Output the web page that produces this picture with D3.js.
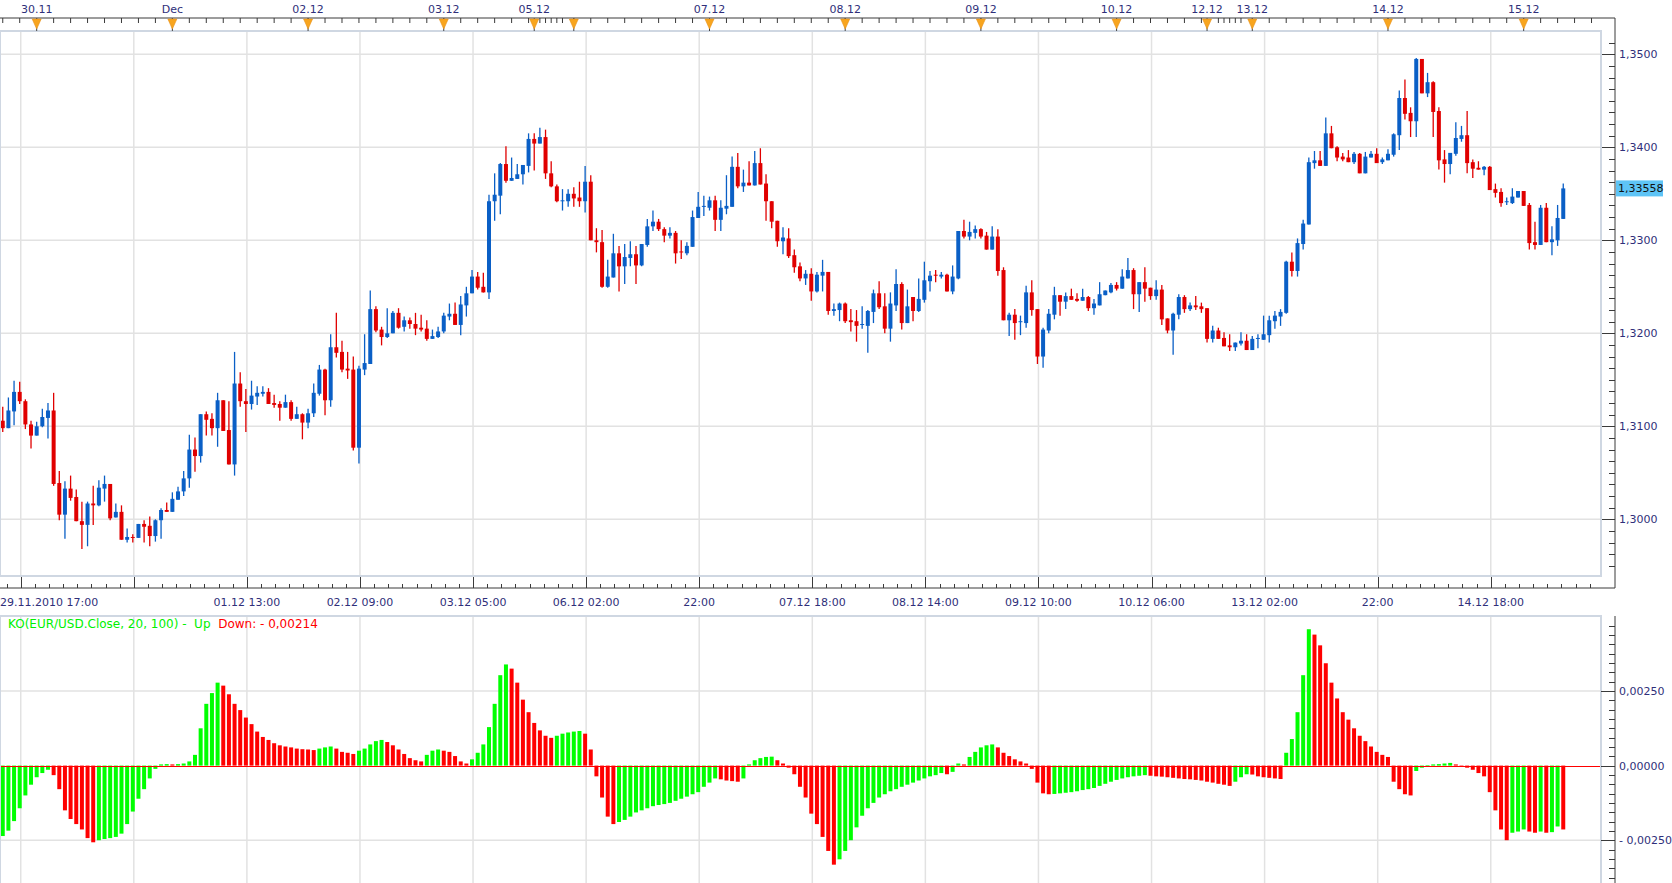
<!DOCTYPE html>
<html><head><meta charset="utf-8">
<script src="https://cdn.jsdelivr.net/npm/d3@7"></script>
<style>html,body{margin:0;padding:0;background:#fff;overflow:hidden}</style>
</head><body><svg id="c" width="1672" height="883"></svg>
<script>
// ---------------- DATA ----------------
const openP = [1.3106,1.3098,1.3116,1.3137,1.3127,1.3102,1.3090,1.3100,1.3109,1.3117,
1.3039,1.3005,1.3033,1.3024,1.2998,1.2994,1.3017,1.3015,1.3033,1.3038,
1.3002,1.3008,1.2978,1.2981,1.2980,1.2995,1.2993,1.2982,1.2999,1.3010,
1.3008,1.3021,1.3030,1.3044,1.3075,1.3068,1.3113,1.3108,1.3098,1.3128,
1.3096,1.3059,1.3146,1.3127,1.3124,1.3132,1.3135,1.3137,1.3125,1.3124,
1.3120,1.3126,1.3108,1.3113,1.3104,1.3114,1.3135,1.3161,1.3128,1.3185,
1.3180,1.3162,1.3161,1.3077,1.3161,1.3167,1.3226,1.3204,1.3196,1.3200,
1.3222,1.3207,1.3214,1.3210,1.3206,1.3205,1.3194,1.3196,1.3202,1.3218,
1.3221,1.3209,1.3230,1.3243,1.3261,1.3250,1.3244,1.3342,1.3348,1.3382,
1.3364,1.3366,1.3371,1.3380,1.3409,1.3404,1.3411,1.3372,1.3358,1.3343,
1.3342,1.3350,1.3346,1.3342,1.3363,1.3300,1.3298,1.3250,1.3260,1.3286,
1.3272,1.3281,1.3285,1.3273,1.3295,1.3315,1.3320,1.3312,1.3305,1.3308,
1.3288,1.3286,1.3293,1.3324,1.3336,1.3335,1.3343,1.3322,1.3334,1.3336,
1.3379,1.3358,1.3362,1.3359,1.3383,1.3361,1.3342,1.3321,1.3299,1.3302,
1.3284,1.3272,1.3259,1.3264,1.3245,1.3262,1.3266,1.3224,1.3225,1.3232,
1.3214,1.3213,1.3209,1.3208,1.3223,1.3243,1.3229,1.3205,1.3230,1.3253,
1.3211,1.3239,1.3224,1.3236,1.3256,1.3263,1.3261,1.3263,1.3245,1.3259,
1.3310,1.3304,1.3308,1.3312,1.3305,1.3290,1.3304,1.3268,1.3214,1.3220,
1.3212,1.3211,1.3244,1.3226,1.3175,1.3203,1.3220,1.3241,1.3234,1.3240,
1.3237,1.3235,1.3239,1.3227,1.3230,1.3241,1.3244,1.3252,1.3248,1.3259,
1.3268,1.3242,1.3255,1.3249,1.3240,1.3247,1.3216,1.3203,1.3220,1.3239,
1.3226,1.3230,1.3229,1.3227,1.3194,1.3203,1.3195,1.3187,1.3185,1.3189,
1.3192,1.3182,1.3194,1.3193,1.3198,1.3213,1.3218,1.3222,1.3277,1.3267,
1.3296,1.3317,1.3383,1.3386,1.3380,1.3415,1.3400,1.3390,1.3389,1.3384,
1.3393,1.3372,1.3389,1.3393,1.3384,1.3386,1.3392,1.3413,1.3453,1.3437,
1.3428,1.3495,1.3458,1.3470,1.3439,1.3387,1.3382,1.3393,1.3409,1.3413,
1.3384,1.3378,1.3376,1.3379,1.3355,1.3352,1.3341,1.3340,1.3346,1.3353,
1.3338,1.3298,1.3295,1.3335,1.3298,1.3300,1.3323];

const highP = [1.3121,1.3131,1.3149,1.3148,1.3129,1.3106,1.3105,1.3119,1.3125,1.3136,
1.3052,1.3041,1.3047,1.3032,1.3019,1.3019,1.3036,1.3042,1.3047,1.3038,
1.3017,1.3015,1.2990,1.2984,1.2995,1.2999,1.3003,1.3000,1.3012,1.3018,
1.3029,1.3035,1.3052,1.3091,1.3088,1.3113,1.3116,1.3114,1.3136,1.3128,
1.3127,1.3180,1.3158,1.3140,1.3149,1.3143,1.3143,1.3141,1.3134,1.3127,
1.3134,1.3128,1.3121,1.3114,1.3119,1.3146,1.3166,1.3162,1.3199,1.3222,
1.3192,1.3180,1.3175,1.3165,1.3199,1.3246,1.3229,1.3207,1.3227,1.3224,
1.3227,1.3218,1.3217,1.3222,1.3220,1.3214,1.3204,1.3207,1.3222,1.3232,
1.3233,1.3240,1.3250,1.3268,1.3266,1.3265,1.3349,1.3372,1.3383,1.3401,
1.3389,1.3382,1.3381,1.3415,1.3415,1.3421,1.3419,1.3385,1.3360,1.3355,
1.3355,1.3357,1.3363,1.3380,1.3370,1.3313,1.3311,1.3279,1.3307,1.3294,
1.3296,1.3299,1.3294,1.3296,1.3323,1.3332,1.3323,1.3314,1.3314,1.3310,
1.3300,1.3298,1.3332,1.3352,1.3348,1.3347,1.3348,1.3343,1.3370,1.3390,
1.3394,1.3376,1.3385,1.3396,1.3399,1.3371,1.3342,1.3321,1.3314,1.3313,
1.3290,1.3276,1.3268,1.3270,1.3266,1.3279,1.3266,1.3232,1.3233,1.3233,
1.3226,1.3225,1.3229,1.3225,1.3247,1.3256,1.3243,1.3244,1.3269,1.3255,
1.3247,1.3239,1.3259,1.3277,1.3267,1.3268,1.3266,1.3264,1.3273,1.3310,
1.3322,1.3320,1.3316,1.3313,1.3309,1.3315,1.3312,1.3271,1.3222,1.3226,
1.3219,1.3251,1.3257,1.3226,1.3206,1.3226,1.3250,1.3241,1.3244,1.3248,
1.3243,1.3248,1.3240,1.3237,1.3255,1.3246,1.3254,1.3255,1.3269,1.3281,
1.3270,1.3255,1.3271,1.3249,1.3257,1.3252,1.3216,1.3222,1.3242,1.3241,
1.3233,1.3240,1.3233,1.3227,1.3208,1.3206,1.3201,1.3199,1.3190,1.3201,
1.3199,1.3197,1.3199,1.3219,1.3219,1.3224,1.3226,1.3278,1.3287,1.3302,
1.3322,1.3389,1.3396,1.3396,1.3432,1.3423,1.3401,1.3394,1.3397,1.3395,
1.3394,1.3395,1.3396,1.3399,1.3389,1.3398,1.3415,1.3461,1.3473,1.3443,
1.3496,1.3495,1.3480,1.3471,1.3443,1.3397,1.3394,1.3427,1.3423,1.3439,
1.3387,1.3385,1.3380,1.3380,1.3361,1.3356,1.3346,1.3356,1.3353,1.3353,
1.3340,1.3320,1.3338,1.3340,1.3315,1.3338,1.3361];

const lowP = [1.3094,1.3098,1.3101,1.3124,1.3097,1.3076,1.3090,1.3099,1.3087,1.3036,
1.2999,1.2979,1.3020,1.2998,1.2968,1.2971,1.2994,1.3014,1.3019,1.2999,
1.3002,1.2978,1.2975,1.2975,1.2980,1.2975,1.2971,1.2976,1.2979,1.3008,
1.3008,1.3021,1.3025,1.3034,1.3051,1.3061,1.3090,1.3090,1.3078,1.3095,
1.3059,1.3047,1.3121,1.3094,1.3118,1.3123,1.3132,1.3124,1.3120,1.3106,
1.3120,1.3106,1.3108,1.3086,1.3098,1.3110,1.3133,1.3112,1.3121,1.3174,
1.3158,1.3151,1.3074,1.3060,1.3155,1.3167,1.3201,1.3187,1.3195,1.3200,
1.3205,1.3202,1.3205,1.3198,1.3202,1.3192,1.3194,1.3195,1.3200,1.3214,
1.3209,1.3198,1.3218,1.3243,1.3247,1.3244,1.3237,1.3321,1.3328,1.3362,
1.3364,1.3366,1.3360,1.3373,1.3375,1.3404,1.3366,1.3357,1.3341,1.3332,
1.3336,1.3336,1.3336,1.3330,1.3300,1.3287,1.3249,1.3249,1.3260,1.3245,
1.3253,1.3272,1.3253,1.3272,1.3293,1.3310,1.3310,1.3298,1.3302,1.3275,
1.3280,1.3284,1.3293,1.3324,1.3326,1.3332,1.3310,1.3310,1.3328,1.3336,
1.3356,1.3352,1.3359,1.3359,1.3360,1.3321,1.3313,1.3293,1.3285,1.3281,
1.3265,1.3256,1.3252,1.3235,1.3244,1.3245,1.3220,1.3219,1.3213,1.3211,
1.3202,1.3191,1.3205,1.3179,1.3211,1.3226,1.3200,1.3191,1.3224,1.3204,
1.3211,1.3213,1.3223,1.3233,1.3245,1.3255,1.3259,1.3245,1.3242,1.3258,
1.3302,1.3300,1.3302,1.3302,1.3290,1.3290,1.3262,1.3214,1.3197,1.3193,
1.3198,1.3206,1.3219,1.3167,1.3163,1.3200,1.3215,1.3219,1.3226,1.3236,
1.3234,1.3235,1.3224,1.3220,1.3230,1.3241,1.3243,1.3246,1.3248,1.3259,
1.3226,1.3223,1.3234,1.3236,1.3236,1.3209,1.3200,1.3177,1.3215,1.3222,
1.3224,1.3225,1.3222,1.3190,1.3190,1.3194,1.3186,1.3181,1.3181,1.3187,
1.3182,1.3182,1.3184,1.3193,1.3190,1.3205,1.3208,1.3221,1.3261,1.3261,
1.3290,1.3317,1.3377,1.3380,1.3380,1.3399,1.3385,1.3385,1.3384,1.3382,
1.3372,1.3372,1.3389,1.3383,1.3382,1.3386,1.3390,1.3397,1.3430,1.3411,
1.3411,1.3458,1.3454,1.3411,1.3376,1.3362,1.3371,1.3391,1.3406,1.3372,
1.3367,1.3376,1.3370,1.3354,1.3346,1.3336,1.3338,1.3339,1.3346,1.3337,
1.3290,1.3290,1.3295,1.3298,1.3284,1.3294,1.3323];

const closeP = [1.3098,1.3117,1.3137,1.3127,1.3102,1.3090,1.3100,1.3110,1.3117,1.3038,
1.3005,1.3033,1.3023,1.2998,1.2994,1.3017,1.3015,1.3034,1.3038,1.3001,
1.3008,1.2978,1.2981,1.2980,1.2995,1.2992,1.2982,1.2999,1.3010,1.3008,
1.3022,1.3030,1.3044,1.3075,1.3068,1.3113,1.3107,1.3098,1.3128,1.3095,
1.3059,1.3146,1.3127,1.3124,1.3133,1.3136,1.3137,1.3124,1.3123,1.3120,
1.3126,1.3108,1.3113,1.3104,1.3114,1.3136,1.3161,1.3128,1.3185,1.3179,
1.3161,1.3160,1.3077,1.3162,1.3168,1.3226,1.3203,1.3196,1.3200,1.3222,
1.3206,1.3214,1.3210,1.3205,1.3204,1.3194,1.3197,1.3202,1.3219,1.3221,
1.3209,1.3231,1.3243,1.3261,1.3249,1.3244,1.3342,1.3349,1.3382,1.3364,
1.3367,1.3371,1.3381,1.3409,1.3404,1.3411,1.3372,1.3358,1.3342,1.3343,
1.3350,1.3345,1.3342,1.3363,1.3300,1.3298,1.3250,1.3261,1.3286,1.3272,
1.3282,1.3285,1.3273,1.3296,1.3315,1.3320,1.3312,1.3305,1.3308,1.3286,
1.3287,1.3294,1.3325,1.3336,1.3337,1.3343,1.3322,1.3335,1.3337,1.3379,
1.3358,1.3362,1.3359,1.3383,1.3360,1.3342,1.3320,1.3299,1.3303,1.3283,
1.3271,1.3259,1.3264,1.3245,1.3263,1.3266,1.3224,1.3226,1.3232,1.3213,
1.3212,1.3208,1.3210,1.3224,1.3243,1.3228,1.3205,1.3232,1.3253,1.3211,
1.3229,1.3224,1.3237,1.3257,1.3262,1.3262,1.3263,1.3245,1.3261,1.3310,
1.3304,1.3309,1.3312,1.3304,1.3290,1.3304,1.3267,1.3214,1.3220,1.3211,
1.3213,1.3244,1.3225,1.3175,1.3204,1.3221,1.3241,1.3234,1.3240,1.3236,
1.3235,1.3239,1.3227,1.3232,1.3242,1.3246,1.3252,1.3248,1.3261,1.3268,
1.3242,1.3255,1.3248,1.3240,1.3247,1.3215,1.3203,1.3221,1.3239,1.3226,
1.3230,1.3228,1.3226,1.3194,1.3203,1.3194,1.3186,1.3185,1.3190,1.3192,
1.3182,1.3194,1.3195,1.3199,1.3214,1.3219,1.3223,1.3277,1.3267,1.3297,
1.3318,1.3384,1.3386,1.3380,1.3415,1.3399,1.3389,1.3387,1.3384,1.3393,
1.3372,1.3390,1.3393,1.3383,1.3387,1.3393,1.3414,1.3453,1.3436,1.3428,
1.3495,1.3458,1.3470,1.3438,1.3386,1.3382,1.3394,1.3410,1.3413,1.3383,
1.3377,1.3376,1.3379,1.3354,1.3351,1.3340,1.3342,1.3347,1.3353,1.3337,
1.3297,1.3295,1.3335,1.3298,1.3301,1.3324,1.33558];

const koValues = [-0.00236,-0.00218,-0.00186,-0.00143,-0.00100,-0.00064,-0.00039,-0.00025,-0.00014,-0.00032,
-0.00079,-0.00150,-0.00179,-0.00196,-0.00214,-0.00243,-0.00257,-0.00250,-0.00246,-0.00243,
-0.00239,-0.00228,-0.00196,-0.00154,-0.00111,-0.00079,-0.00043,-0.00011,0.00004,0.00005,
0.00004,0.00005,0.00007,0.00014,0.00036,0.00125,0.00207,0.00243,0.00278,0.00268,
0.00239,0.00207,0.00186,0.00161,0.00139,0.00114,0.00096,0.00086,0.00075,0.00068,
0.00064,0.00061,0.00057,0.00055,0.00054,0.00052,0.00057,0.00061,0.00064,0.00057,
0.00046,0.00043,0.00039,0.00050,0.00057,0.00071,0.00082,0.00086,0.00079,0.00068,
0.00054,0.00039,0.00025,0.00018,0.00014,0.00036,0.00050,0.00054,0.00050,0.00046,
0.00032,0.00014,0.00007,0.00021,0.00043,0.00071,0.00129,0.00207,0.00303,0.00339,
0.00325,0.00278,0.00221,0.00179,0.00143,0.00118,0.00100,0.00093,0.00100,0.00107,
0.00111,0.00114,0.00116,0.00107,0.00054,-0.00036,-0.00107,-0.00171,-0.00196,-0.00189,
-0.00182,-0.00171,-0.00157,-0.00150,-0.00143,-0.00136,-0.00132,-0.00129,-0.00125,-0.00118,
-0.00111,-0.00104,-0.00096,-0.00089,-0.00071,-0.00057,-0.00043,-0.00046,-0.00050,-0.00052,
-0.00054,-0.00043,0.00004,0.00018,0.00025,0.00029,0.00030,0.00018,0.00007,-0.00007,
-0.00029,-0.00071,-0.00107,-0.00161,-0.00196,-0.00239,-0.00286,-0.00332,-0.00314,-0.00286,
-0.00250,-0.00207,-0.00168,-0.00143,-0.00125,-0.00107,-0.00096,-0.00086,-0.00079,-0.00071,
-0.00064,-0.00057,-0.00050,-0.00043,-0.00036,-0.00032,-0.00025,-0.00029,-0.00021,0.00007,
0.00004,0.00029,0.00046,0.00061,0.00068,0.00071,0.00061,0.00043,0.00032,0.00021,
0.00014,0.00007,-0.00011,-0.00057,-0.00093,-0.00096,-0.00095,-0.00093,-0.00091,-0.00089,
-0.00086,-0.00082,-0.00079,-0.00075,-0.00068,-0.00061,-0.00054,-0.00048,-0.00043,-0.00039,
-0.00036,-0.00034,-0.00032,-0.00034,-0.00036,-0.00037,-0.00039,-0.00041,-0.00043,-0.00045,
-0.00046,-0.00048,-0.00050,-0.00054,-0.00057,-0.00061,-0.00064,-0.00068,-0.00054,-0.00039,
-0.00029,-0.00030,-0.00036,-0.00039,-0.00041,-0.00043,-0.00045,0.00043,0.00089,0.00179,
0.00303,0.00457,0.00439,0.00403,0.00343,0.00278,0.00225,0.00179,0.00154,0.00125,
0.00100,0.00082,0.00064,0.00046,0.00036,0.00029,-0.00054,-0.00079,-0.00096,-0.00100,
-0.00018,-0.00007,0.00002,0.00004,0.00005,0.00007,0.00009,0.00004,-0.00004,-0.00007,
-0.00014,-0.00025,-0.00036,-0.00089,-0.00150,-0.00214,-0.00250,-0.00225,-0.00221,-0.00214,
-0.00221,-0.00225,-0.00221,-0.00225,-0.00223,-0.00204,-0.00214];

// day markers on the top axis (bar index of each day start)
const dayIdx    = [6, 30, 54, 78, 94, 101, 125, 149, 173, 197, 213, 221, 245, 269];
const dayLabels = ["30.11","Dec","02.12","03.12","05.12","","07.12","08.12","09.12","10.12","12.12","13.12","14.12","15.12"];
// vertical grid (bar index) and bottom time labels
const gridIdx    = [3, 23, 43, 63, 83, 103, 123, 143, 163, 183, 203, 223, 243, 263];
const gridLabels = ["", "", "01.12 13:00", "02.12 09:00", "03.12 05:00", "06.12 02:00", "22:00",
                    "07.12 18:00", "08.12 14:00", "09.12 10:00", "10.12 06:00", "13.12 02:00", "22:00", "14.12 18:00"];
const startLabel = "29.11.2010 17:00";
const priceTicks = [1.30, 1.31, 1.32, 1.33, 1.34, 1.35];
const koTicks = [-0.0025, 0, 0.0025];
const koTitle = "KO(EUR/USD.Close, 20, 100) -\u00A0\u00A0Up\u00A0\u00A0";

// ---------------- LAYOUT / STYLE ----------------
const N = closeP.length;
const step = 5.654, x0 = 2.75, gridShift = 0.18;
const M = {top: 31, bottom: 576, right: 1601};
const S = {top: 616, bottom: 883};
const axisX = 1615, topAxisY = 18, botAxisY = 588;
const FONT = "'DejaVu Sans', Verdana, sans-serif";
const TXT = "#2f2f7a", AX = "#3a3a3a", GRID = "#e2e2e2", FRAME = "#cfd7e2";
const UP = "#0a5fc6", DOWN = "#e00000";

const svg = d3.select("#c");
const x = d3.scaleLinear().domain([0, N - 1]).range([x0, x0 + step * (N - 1)]);
const y = d3.scaleLinear().domain([1.30, 1.35]).range([519.3, 54.3]);
const yk = d3.scaleLinear().domain([-0.0025, 0.0025]).range([840.2, 691.0]);
const comma = s => s.replace(".", ",");

const defs = svg.append("defs");
defs.append("clipPath").attr("id", "mclip").append("rect")
  .attr("x", 0).attr("y", M.top).attr("width", M.right).attr("height", M.bottom - M.top);
defs.append("clipPath").attr("id", "sclip").append("rect")
  .attr("x", 0).attr("y", S.top).attr("width", M.right).attr("height", S.bottom - S.top);

// ---------- main panel ----------
const gm = svg.append("g").attr("clip-path", "url(#mclip)");
gm.selectAll("line.vg").data(gridIdx).join("line")
  .attr("x1", d => x(d + gridShift)).attr("x2", d => x(d + gridShift))
  .attr("y1", M.top).attr("y2", M.bottom).attr("stroke", GRID).attr("stroke-width", 1.5);
gm.selectAll("line.hg").data(priceTicks).join("line")
  .attr("x1", 0).attr("x2", M.right).attr("y1", d => y(d)).attr("y2", d => y(d))
  .attr("stroke", GRID).attr("stroke-width", 1.5);

const idx = d3.range(N);
const col = i => closeP[i] >= openP[i] ? UP : DOWN;
gm.selectAll("line.wick").data(idx).join("line")
  .attr("x1", i => x(i)).attr("x2", i => x(i))
  .attr("y1", i => y(highP[i])).attr("y2", i => y(lowP[i]))
  .attr("stroke", col).attr("stroke-width", 1.3);
gm.selectAll("rect.body").data(idx).join("rect")
  .attr("x", i => x(i) - 2).attr("width", 4)
  .attr("y", i => y(Math.max(openP[i], closeP[i])))
  .attr("height", i => Math.max(1, Math.abs(y(openP[i]) - y(closeP[i]))))
  .attr("fill", col);

svg.append("rect").attr("x", 0).attr("y", M.top).attr("width", M.right).attr("height", M.bottom - M.top)
  .attr("fill", "none").attr("stroke", FRAME).attr("stroke-width", 2);

// ---------- top axis ----------
svg.append("line").attr("x1", 0).attr("x2", axisX).attr("y1", topAxisY).attr("y2", topAxisY)
  .attr("stroke", AX).attr("stroke-width", 1);
const topTicks = [].concat(
  d3.range(0, 94, 3), d3.range(95, 100, 1),
  d3.range(101, 213, 3), d3.range(215, 220, 1),
  d3.range(221, N + 6, 3));
svg.selectAll("line.tt").data(topTicks).join("line")
  .attr("x1", d => x(d)).attr("x2", d => x(d))
  .attr("y1", topAxisY).attr("y2", topAxisY + 5).attr("stroke", AX);
const mk = svg.selectAll("g.mk").data(dayIdx).join("g")
  .attr("transform", d => `translate(${x(d)},0)`);
mk.append("line").attr("x1", 0).attr("x2", 0).attr("y1", topAxisY).attr("y2", 31)
  .attr("stroke", "#444").attr("stroke-width", 1);
mk.append("path").attr("d", `M-4.5,${topAxisY + 1}L4.5,${topAxisY + 1}L0,${topAxisY + 11}Z`)
  .attr("fill", "#f8a51e").attr("stroke", "#e8901a").attr("stroke-width", 0.6);
svg.selectAll("text.day").data(dayIdx).join("text")
  .attr("x", d => x(d)).attr("y", 13).attr("text-anchor", "middle")
  .attr("font-family", FONT).attr("font-size", 11).attr("fill", TXT)
  .text((d, i) => dayLabels[i]);

// ---------- right price axis ----------
svg.append("line").attr("x1", axisX).attr("x2", axisX).attr("y1", topAxisY).attr("y2", botAxisY)
  .attr("stroke", AX);
const priceMinor = d3.range(-4, 42).map(k => 1.30 + k * 0.00125);
svg.selectAll("line.pt").data(priceMinor).join("line")
  .attr("x1", (d, i) => ((i - 4) % 8 === 0) ? M.right + 1 : axisX - 6).attr("x2", axisX)
  .attr("y1", d => Math.round(y(d)) + 0.5).attr("y2", d => Math.round(y(d)) + 0.5)
  .attr("stroke", AX);
svg.selectAll("text.pl").data(priceTicks).join("text")
  .attr("x", axisX + 4).attr("y", d => y(d) + 4)
  .attr("font-family", FONT).attr("font-size", 11).attr("fill", TXT)
  .text(d => comma(d3.format(".4f")(d)));
const last = closeP[N - 1];
svg.append("rect").attr("x", axisX + 1).attr("y", y(last) - 8).attr("width", 47).attr("height", 16)
  .attr("fill", "#5ec4f6");
svg.append("text").attr("x", axisX + 3).attr("y", y(last) + 4)
  .attr("font-family", FONT).attr("font-size", 11).attr("fill", "#111")
  .text(comma(d3.format(".5f")(last)));

// ---------- bottom time axis ----------
svg.append("line").attr("x1", 0).attr("x2", axisX).attr("y1", botAxisY).attr("y2", botAxisY)
  .attr("stroke", AX);
const botMinor = d3.range(-1, 120).map(k => gridIdx[0] + gridShift + k * 2.5)
  .filter(d => x(d) >= 0 && x(d) <= M.right);
svg.selectAll("line.bt").data(botMinor).join("line")
  .attr("x1", d => Math.round(x(d)) + 0.5).attr("x2", d => Math.round(x(d)) + 0.5)
  .attr("y1", (d, i) => (Math.abs(((d - gridIdx[0] - gridShift) / 20) % 1) < 1e-6) ? M.bottom + 1 : botAxisY - 4)
  .attr("y2", botAxisY).attr("stroke", AX);
svg.selectAll("text.bl").data(gridIdx).join("text")
  .attr("x", d => x(d + gridShift)).attr("y", 606).attr("text-anchor", "middle")
  .attr("font-family", FONT).attr("font-size", 11).attr("fill", TXT)
  .text((d, i) => gridLabels[i]);
svg.append("text").attr("x", 0).attr("y", 606)
  .attr("font-family", FONT).attr("font-size", 11).attr("fill", TXT).text(startLabel);

// ---------- indicator panel ----------
const gs = svg.append("g").attr("clip-path", "url(#sclip)");
gs.selectAll("line.vg").data(gridIdx).join("line")
  .attr("x1", d => x(d + gridShift)).attr("x2", d => x(d + gridShift))
  .attr("y1", S.top).attr("y2", S.bottom).attr("stroke", GRID).attr("stroke-width", 1.5);
gs.selectAll("line.hg").data(koTicks.filter(d => d !== 0)).join("line")
  .attr("x1", 0).attr("x2", M.right).attr("y1", d => yk(d)).attr("y2", d => yk(d))
  .attr("stroke", GRID).attr("stroke-width", 1.5);
gs.selectAll("rect.ko").data(idx).join("rect")
  .attr("x", i => x(i) - 2).attr("width", 4)
  .attr("y", i => Math.min(yk(0), yk(koValues[i])))
  .attr("height", i => Math.abs(yk(koValues[i]) - yk(0)))
  .attr("fill", i => (i === 0 || koValues[i] >= koValues[i - 1]) ? "#00ff00" : "#ff0000");
gs.append("line").attr("x1", 0).attr("x2", M.right).attr("y1", Math.round(yk(0)) + 0.5).attr("y2", Math.round(yk(0)) + 0.5)
  .attr("stroke", "#ff0000").attr("stroke-width", 1);
svg.append("rect").attr("x", 0).attr("y", S.top).attr("width", M.right).attr("height", S.bottom - S.top + 4)
  .attr("fill", "none").attr("stroke", FRAME).attr("stroke-width", 2);

svg.append("line").attr("x1", axisX).attr("x2", axisX).attr("y1", S.top).attr("y2", S.bottom)
  .attr("stroke", AX);
const koMinor = d3.range(-12, 16).map(k => k * 0.0003125);
svg.selectAll("line.kt").data(koMinor).join("line")
  .attr("x1", (d, i) => ((i - 12) % 8 === 0) ? M.right : axisX - 6).attr("x2", axisX)
  .attr("y1", d => Math.round(yk(d)) + 0.5).attr("y2", d => Math.round(yk(d)) + 0.5)
  .attr("stroke", AX);
svg.selectAll("text.kl").data(koTicks).join("text")
  .attr("x", axisX + 4).attr("y", d => yk(d) + 4)
  .attr("font-family", FONT).attr("font-size", 11).attr("fill", TXT)
  .text(d => (d < 0 ? "- " : "") + comma(d3.format(".5f")(Math.abs(d))));

const lastKo = koValues[N - 1];
const title = svg.append("text").attr("x", 8).attr("y", 628)
  .attr("font-family", FONT).attr("font-size", 12);
title.append("tspan").attr("fill", "#00f000").text(koTitle);
title.append("tspan").attr("fill", "#ff0000")
  .text("Down: " + (lastKo < 0 ? "- " : "") + comma(d3.format(".5f")(Math.abs(lastKo))));
</script>
</body></html>
